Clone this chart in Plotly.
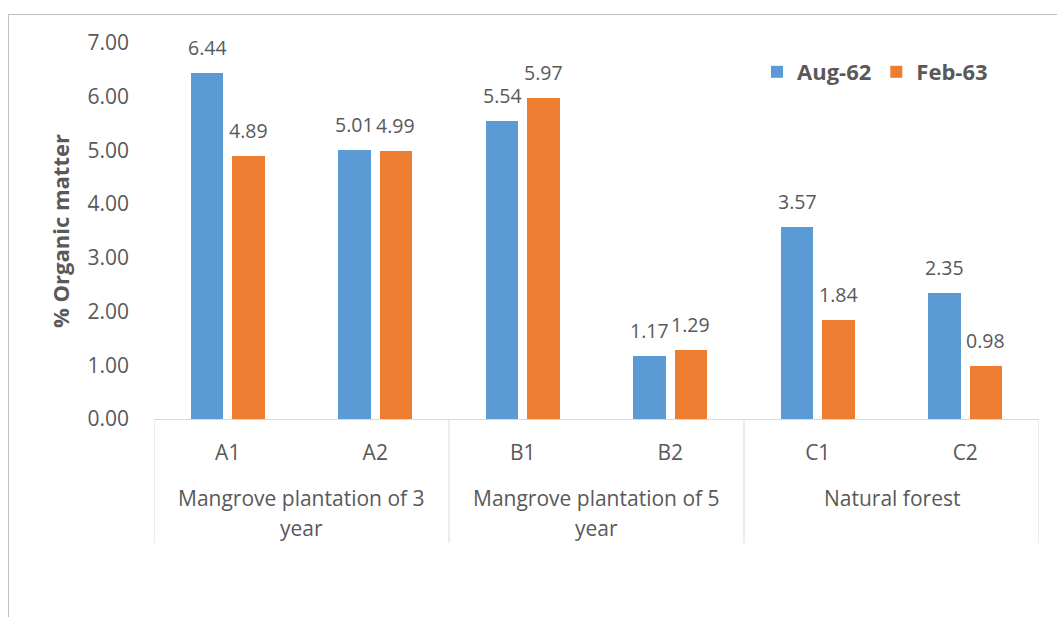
import plotly.graph_objects as go

# Sampling sites and their plantation groups
sites = ["A1", "A2", "B1", "B2", "C1", "C2"]
group_lines = [["Mangrove plantation of 3", "year"],
               ["Mangrove plantation of 5", "year"],
               ["Natural forest"]]

# % organic matter per sampling period
aug_62 = [6.44, 5.01, 5.54, 1.17, 3.57, 2.35]
feb_63 = [4.89, 4.99, 5.97, 1.29, 1.84, 0.98]

y_ticks = [0, 1, 2, 3, 4, 5, 6, 7]

BLUE = "#5B9BD5"
ORANGE = "#ED7D31"
TEXT = "#595959"
LINE = "#D9D9D9"
FONT = "Open Sans"

# plot area in pixels
L, R, T, B = 154, 1039, 43, 419
PW, PH = R - L, B - T

x_pos = list(range(len(sites)))
bar_w = 0.22
off_a, off_b = -0.25, 0.03

fig = go.Figure()
fig.add_trace(go.Bar(x=x_pos, y=aug_62, name="Aug-62", marker_color=BLUE,
                     width=bar_w, offset=off_a, marker_line_width=0))
fig.add_trace(go.Bar(x=x_pos, y=feb_63, name="Feb-63", marker_color=ORANGE,
                     width=bar_w, offset=off_b, marker_line_width=0))

annotations = []
# value labels above each bar
for series, off in ((aug_62, off_a), (feb_63, off_b)):
    for i, v in enumerate(series):
        annotations.append(dict(x=i + off + bar_w / 2, y=v, xref="x", yref="y",
                                text=f"{v:.2f}", showarrow=False, yanchor="bottom",
                                yshift=10, font=dict(family=FONT, size=19.5, color=TEXT)))

# group captions under the site labels
for g, lines in enumerate(group_lines):
    for k, line in enumerate(lines):
        annotations.append(dict(x=2 * g + 0.5, y=0, xref="x", yref="paper",
                                text=line, showarrow=False, yanchor="middle",
                                yshift=-79 - 30 * k,
                                font=dict(family=FONT, size=21, color=TEXT)))

# y-axis title
annotations.append(dict(x=(60 - L) / PW, y=0.5, xref="paper", yref="paper",
                        text="<b>% Organic matter</b>",
                        showarrow=False, textangle=-90, xanchor="center", yanchor="middle",
                        font=dict(family=FONT, size=22, color=TEXT)))

shapes = []
# group dividers below the category axis
for xb in (-0.5, 1.5, 3.5, 5.5):
    shapes.append(dict(type="line", xref="x", yref="paper", x0=xb, x1=xb,
                       y0=0, y1=-124 / PH, line=dict(color=LINE, width=1)))
# chart area border
bx = (8.5 - L) / PW
by = (B - 14.5) / PH
shapes.append(dict(type="line", xref="paper", yref="paper", x0=bx, x1=bx,
                   y0=by, y1=(B - 640) / PH, line=dict(color="#BFBFBF", width=1)))
shapes.append(dict(type="line", xref="paper", yref="paper", x0=bx, x1=(1070 - L) / PW,
                   y0=by, y1=by, line=dict(color="#BFBFBF", width=1)))

fig.update_layout(
    width=1057, height=617,
    margin=dict(l=L, r=1057 - R, t=T, b=617 - B),
    paper_bgcolor="white", plot_bgcolor="white",
    font=dict(family=FONT, size=21, color=TEXT),
    showlegend=True,
    legend=dict(orientation="h", x=(757 - L) / PW, y=(B - 72) / PH,
                xanchor="left", yanchor="middle",
                font=dict(family=FONT, size=22, color=TEXT, weight="bold"),
                itemwidth=30, bgcolor="rgba(0,0,0,0)"),
    annotations=annotations,
    shapes=shapes,
    bargap=0, bargroupgap=0,
)
fig.update_xaxes(range=[-0.5, 5.5], tickvals=x_pos, ticktext=sites,
                 showline=True, linecolor=LINE, linewidth=1, showgrid=False,
                 zeroline=False, ticks="", ticklabelstandoff=15,
                 tickfont=dict(family=FONT, size=21, color=TEXT), fixedrange=True)
fig.update_yaxes(range=[0, 7], tickvals=y_ticks, tickformat=".2f",
                 showline=False, showgrid=False, zeroline=False, ticks="",
                 ticklabelstandoff=24,
                 tickfont=dict(family=FONT, size=21, color=TEXT), fixedrange=True)

fig.write_html("out.html")
